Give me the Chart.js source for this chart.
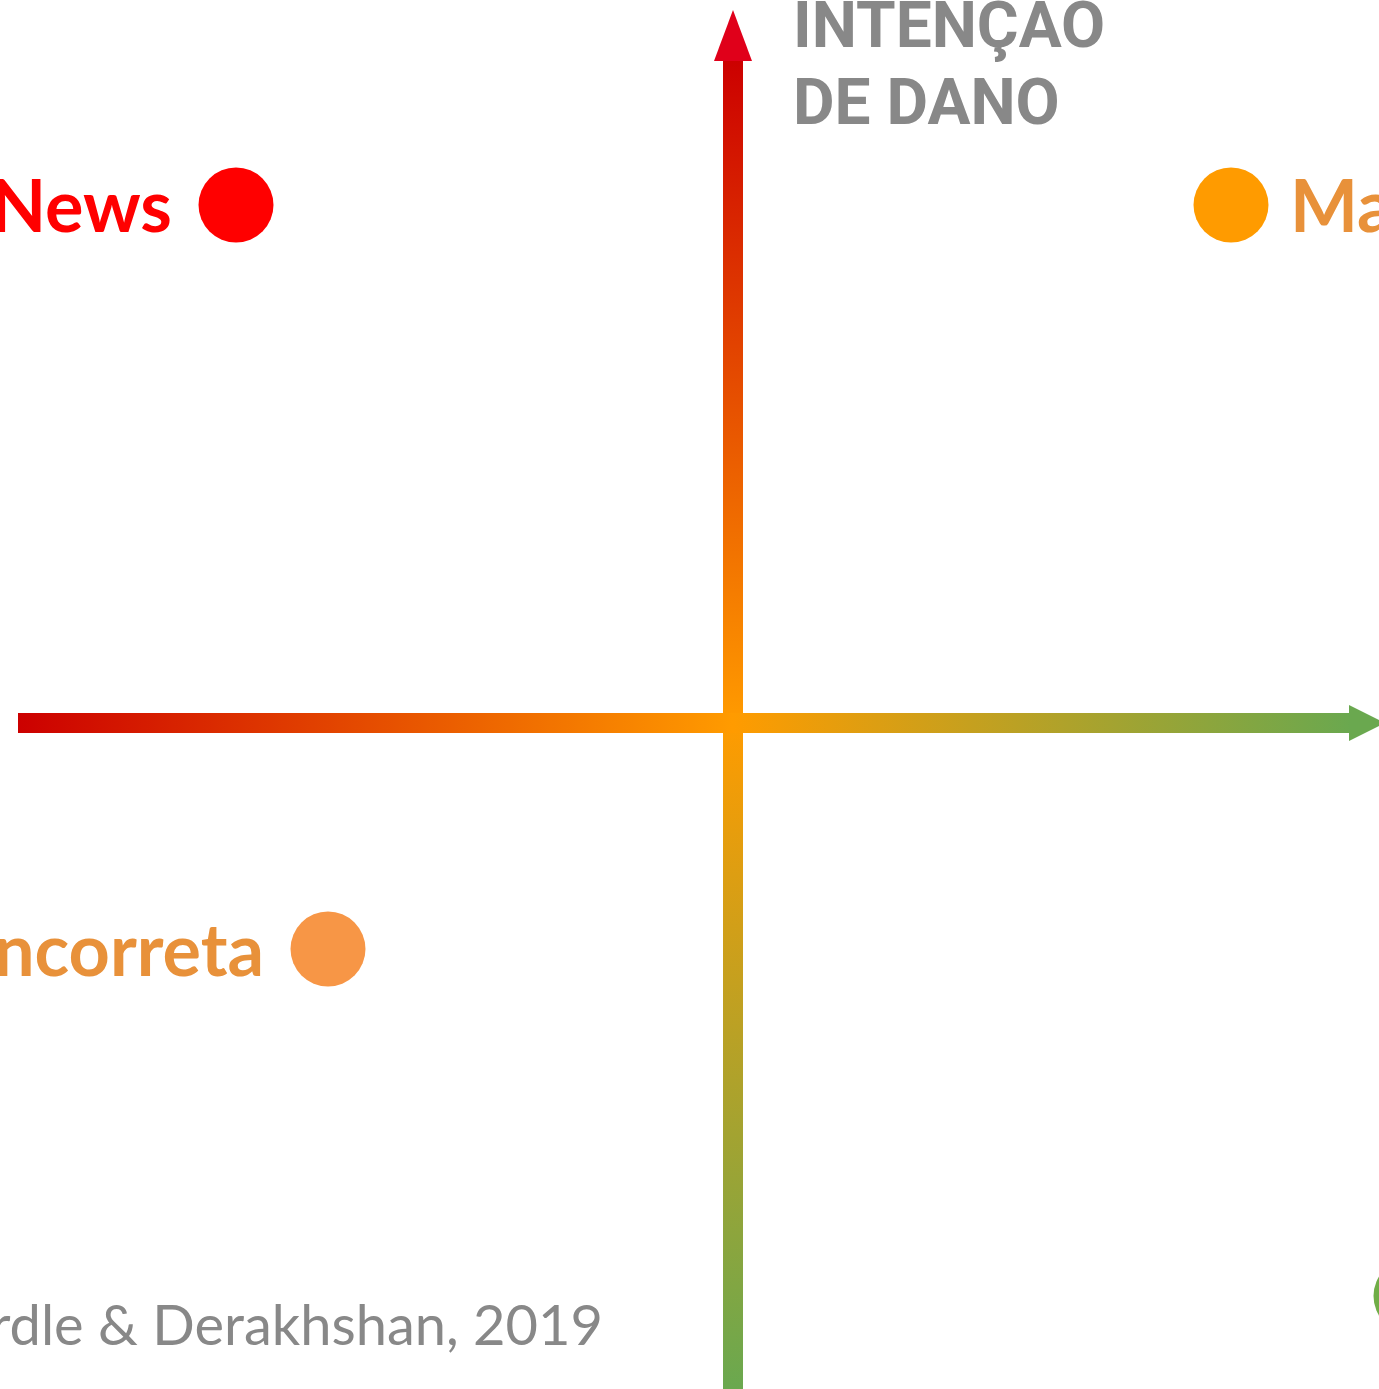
<!DOCTYPE html>
<html>
<head>
<meta charset="utf-8">
<script src="https://cdn.jsdelivr.net/npm/chart.js@4.4.0/dist/chart.umd.min.js"></script>
<style>
  body { margin: 0; background: #fff; overflow: hidden; }
  #wrap { width: 1379px; height: 1389px; }
</style>
</head>
<body>
<div id="wrap"><canvas id="quad" width="1379" height="1389"></canvas></div>
<script>
// quadrant items (x = falsidade, y = intenção de dano), centre of the diagram = 0,0
const itemLabels = ["Fake News", "Mal-informação", "Informação incorreta", "Informação correta"];
const itemX = [-4.97, 4.98, -4.05, 6.78];
const itemY = [5.18, 5.18, -2.26, -5.73];
const itemColors = ["#FF0000", "#FF9B00", "#F79646", "#70AD47"];
const labelColors = ["#FF0000", "#E8913A", "#E8913A", "#70AD47"];
const labelSide = ["left", "right", "left", "right"];

const axisTitle = ["INTENÇAO", "DE DANO"];
const sourceText = "Fonte: Wardle & Derakhshan, 2019";

const xMin = -7.33, xMax = 6.46;
const yMin = -6.66, yMax = 7.23;

const arrowsPlugin = {
    id: "arrows",
    beforeDatasetsDraw(chart) {
        const ctx = chart.ctx;
        const xs = chart.scales.x, ys = chart.scales.y;
        const cx = xs.getPixelForValue(0);
        const cy = ys.getPixelForValue(0);
        const top = ys.getPixelForValue(yMax);
        const bottom = ys.getPixelForValue(yMin);
        const left = xs.getPixelForValue(xMin);
        const right = xs.getPixelForValue(xMax);
        const w = 20;

        // vertical arrow
        let g = ctx.createLinearGradient(0, top + 60, 0, bottom);
        g.addColorStop(0, "#CC0000");
        g.addColorStop((cy - top - 60) / (bottom - top - 60), "#FF9B00");
        g.addColorStop(1, "#6AA84F");
        ctx.save();
        ctx.fillStyle = g;
        ctx.fillRect(cx - w / 2, top + 58, w, bottom - top - 58);
        ctx.fillStyle = "#E0001A";
        ctx.beginPath();
        ctx.moveTo(cx, top + 10);
        ctx.lineTo(cx + 19, top + 61);
        ctx.lineTo(cx - 19, top + 61);
        ctx.closePath();
        ctx.fill();

        // horizontal arrow
        g = ctx.createLinearGradient(left + 18, 0, right - 28, 0);
        g.addColorStop(0, "#CC0000");
        g.addColorStop((cx - left - 18) / (right - left - 46), "#FF9B00");
        g.addColorStop(1, "#6AA84F");
        ctx.fillStyle = g;
        ctx.fillRect(left + 18, cy - w / 2, right - left - 48, w);
        ctx.fillStyle = "#6AA84F";
        ctx.beginPath();
        ctx.moveTo(right - 30, cy - 18);
        ctx.lineTo(right + 6, cy);
        ctx.lineTo(right - 30, cy + 18);
        ctx.closePath();
        ctx.fill();

        // axis title
        ctx.fillStyle = "#888888";
        ctx.font = "bold 64px Roboto";
        ctx.textAlign = "left";
        ctx.textBaseline = "alphabetic";
        ctx.fillText(axisTitle[0], cx + 60, top + 47);
        ctx.fillText(axisTitle[1], cx + 60, top + 124);

        // source
        ctx.font = "56px Lato";
        ctx.textAlign = "right";
        ctx.fillText(sourceText, cx - 130, bottom - 44);
        ctx.restore();
    },
    afterDatasetsDraw(chart) {
        const ctx = chart.ctx;
        const meta = chart.getDatasetMeta(0);
        ctx.save();
        ctx.font = "bold 72px Lato";
        ctx.textBaseline = "alphabetic";
        meta.data.forEach((pt, i) => {
            ctx.fillStyle = labelColors[i];
            if (labelSide[i] === "left") {
                ctx.textAlign = "right";
                ctx.fillText(itemLabels[i], pt.x - 64, pt.y + 27);
            } else {
                ctx.textAlign = "left";
                ctx.fillText(itemLabels[i], pt.x + 59, pt.y + 27);
            }
        });
        ctx.restore();
    }
};

new Chart(document.getElementById("quad"), {
    type: "scatter",
    data: {
        datasets: [{
            data: itemX.map((x, i) => ({ x: x, y: itemY[i] })),
            backgroundColor: itemColors,
            borderWidth: 0,
            pointRadius: 37.5,
            pointHoverRadius: 37.5,
            clip: false
        }]
    },
    options: {
        responsive: false,
        animation: false,
        layout: { padding: 0, autoPadding: false },
        plugins: { legend: { display: false }, tooltip: { enabled: false } },
        scales: {
            x: { type: "linear", min: xMin, max: xMax, display: false },
            y: { type: "linear", min: yMin, max: yMax, display: false }
        }
    },
    plugins: [arrowsPlugin]
});
</script>
</body>
</html>
